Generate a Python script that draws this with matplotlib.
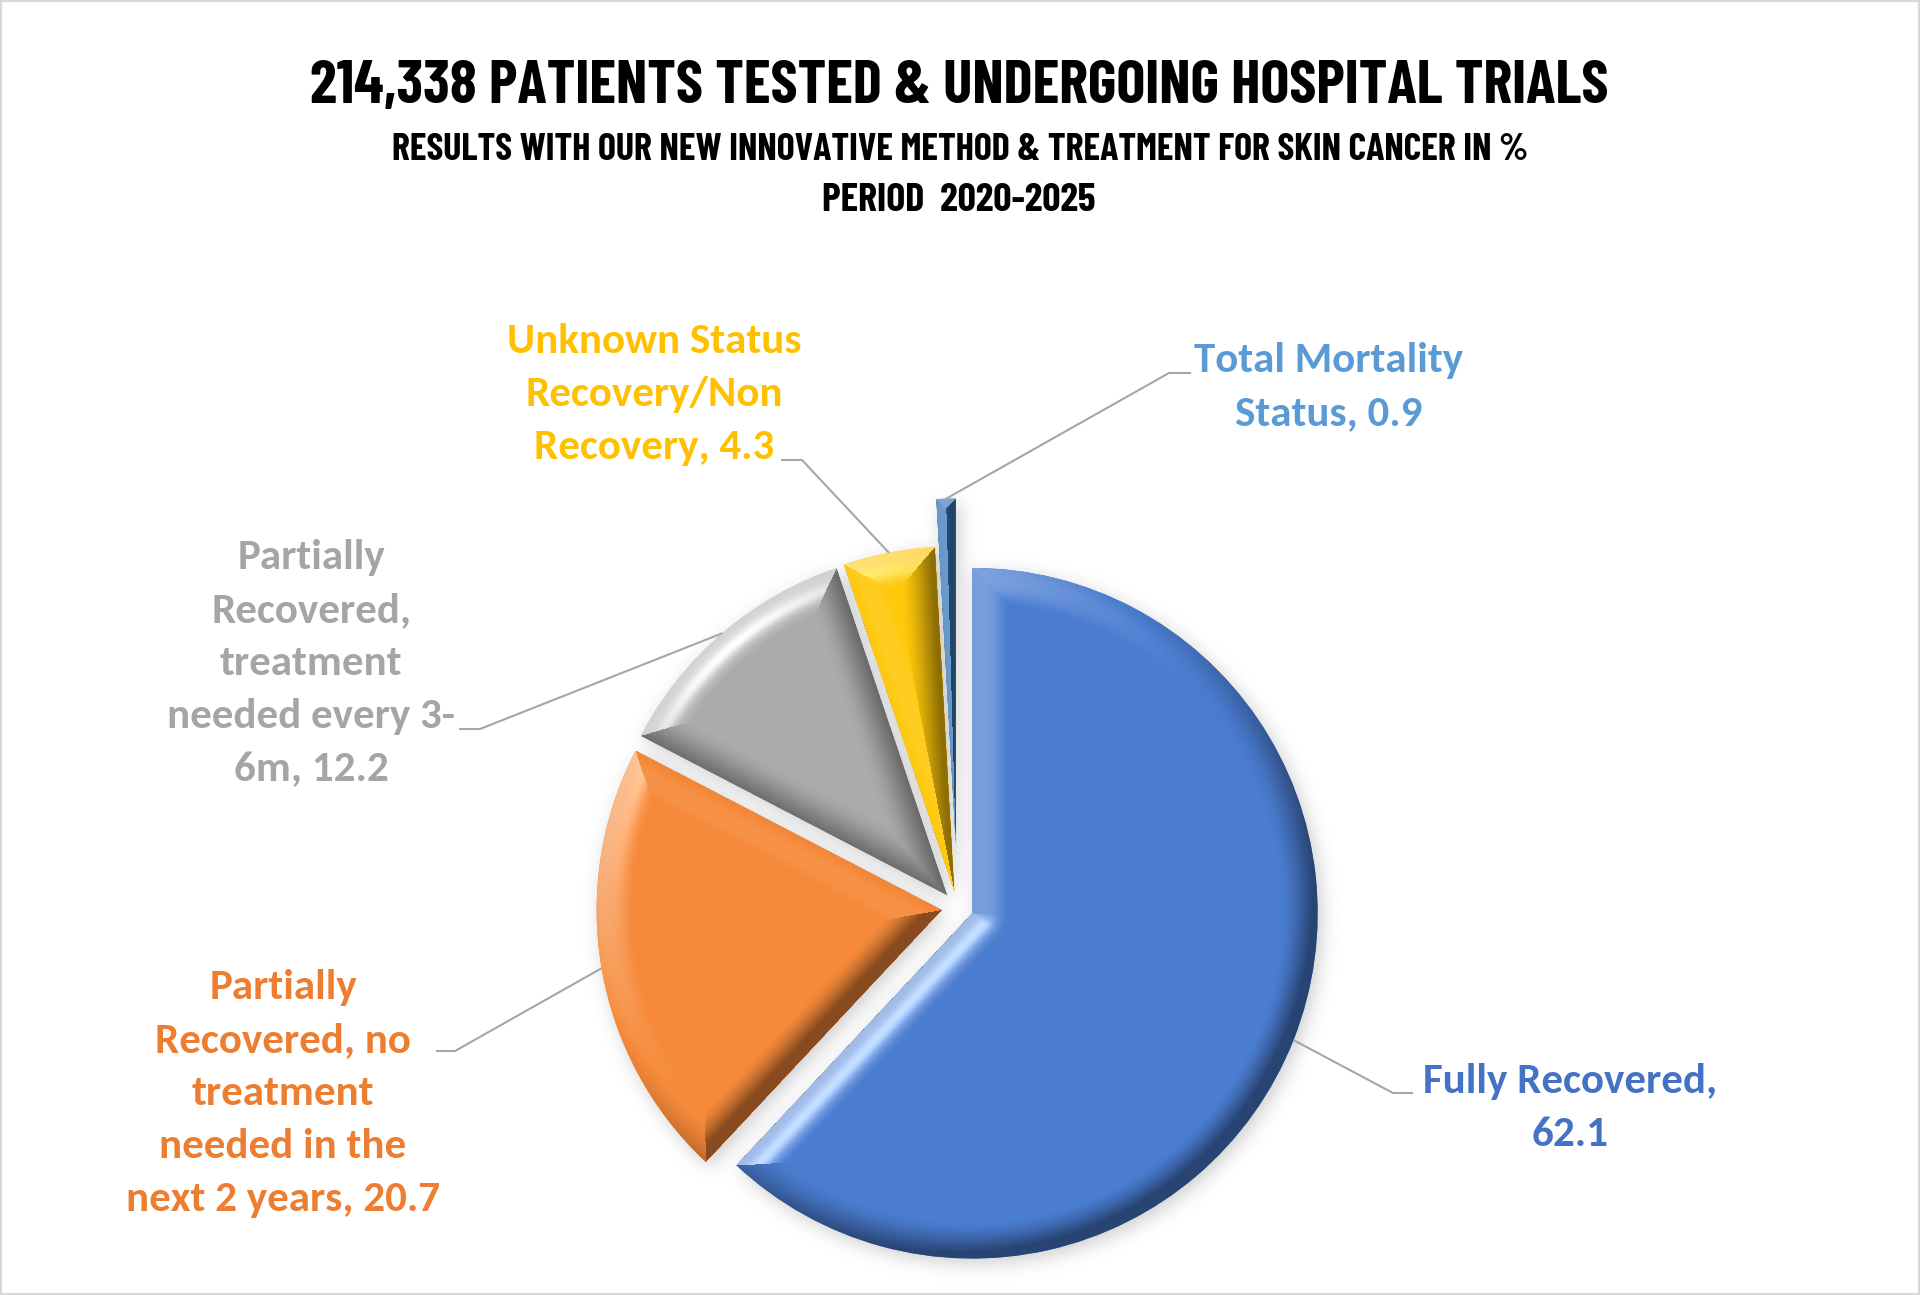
import numpy as np
import matplotlib
matplotlib.use("Agg")
import matplotlib.pyplot as plt
from matplotlib.patches import Rectangle
from matplotlib.colors import to_rgb

# ---------------- data ----------------
categories = [
    "Fully Recovered",
    "Partially\nRecovered, no\ntreatment\nneeded in the\nnext 2 years",
    "Partially\nRecovered,\ntreatment\nneeded every 3-\n6m",
    "Unknown Status\nRecovery/Non\nRecovery",
    "Total Mortality\nStatus",
]
values = [62.1, 20.7, 12.2, 4.3, 0.9]
label_sep = [",\n", ", ", ", ", ", ", ", "]
face_colors = ["#4A7CD0", "#F68A3A", "#ABABAB", "#FFC80A", "#3F7DBD"]
label_colors = ["#4472C4", "#ED7D31", "#A5A5A5", "#FFC000", "#5B9BD5"]
explode = [0.046, 0.046, 0.046, 0.046, 0.184]   # fraction of radius

title = "214,338 PATIENTS TESTED & UNDERGOING HOSPITAL TRIALS"
subtitle = "RESULTS WITH OUR NEW INNOVATIVE METHOD & TREATMENT FOR SKIN CANCER IN %"
period = "PERIOD  2020-2025"

# ---------------- figure ----------------
W, H = 1920, 1295
fig = plt.figure(figsize=(W / 100, H / 100), dpi=100)
ax = fig.add_axes([0, 0, 1, 1])
cx, cy, R = 957.6, 387.6, 345.3

wedges, _ = ax.pie(values, colors=face_colors, startangle=90, counterclock=False,
                   explode=[e * R for e in explode], center=(cx, cy), radius=R,
                   wedgeprops=dict(linewidth=0, zorder=3))
ax.set_xlim(0, W)
ax.set_ylim(0, H)
ax.set_aspect("equal")
ax.axis("off")


def wedge_mask(w, X, Y):
    c = np.array(w.center)
    rx, ry = X - c[0], Y - c[1]
    rho = np.hypot(rx, ry)
    phi = np.degrees(np.arctan2(ry, rx))
    span = (w.theta2 - w.theta1)
    a = np.mod(phi - w.theta1, 360.0)
    return (rho <= w.r) & (a <= span)


# soft outer shadow
sx0, sx1 = int(cx - R - 140), int(cx + R + 140)
sy0, sy1 = int(cy - R - 140), int(cy + R + 160)
xs = np.arange(sx0, sx1) + 0.5
ys = np.arange(sy0, sy1) + 0.5
X, Y = np.meshgrid(xs, ys)
m = np.zeros_like(X)
for w in wedges:
    m = np.maximum(m, wedge_mask(w, X - 4, Y + 5).astype(float))
ky = np.fft.fftfreq(m.shape[0])
kx = np.fft.fftfreq(m.shape[1])
KX, KY = np.meshgrid(kx, ky)
sig = 9.0
G = np.exp(-2 * (np.pi * sig) ** 2 * (KX ** 2 + KY ** 2))
mb = np.clip(np.real(np.fft.ifft2(np.fft.fft2(m) * G)), 0, 1)
shadow = np.zeros(m.shape + (4,))
shadow[..., :3] = 0.4
shadow[..., 3] = mb * 0.32
ax.imshow(shadow, extent=(sx0, sx1, sy0, sy1), origin="lower", zorder=2,
          interpolation="bilinear")

# bevel shading drawn over each wedge, clipped to it
L = np.array([-0.55, 0.6, 0.75])
L = L / np.linalg.norm(L)


def shade(w, base, bevel=36.0, slope=1.1):
    c = np.array(w.center)
    r = w.r
    v = w.get_path().vertices
    x0, y0 = np.floor(v.min(axis=0)) - 2
    x1, y1 = np.ceil(v.max(axis=0)) + 2
    xs = np.arange(x0, x1) + 0.5
    ys = np.arange(y0, y1) + 0.5
    X, Y = np.meshgrid(xs, ys)
    rx, ry = X - c[0], Y - c[1]
    rho = np.hypot(rx, ry) + 1e-9
    d_best = r - rho
    gx, gy = -rx / rho, -ry / rho
    for th in (w.theta1, w.theta2):
        t = np.radians(th)
        ex, ey = np.cos(t), np.sin(t)
        tp = np.maximum(rx * ex + ry * ey, 0)
        vx, vy = rx - tp * ex, ry - tp * ey
        d = np.hypot(vx, vy) + 1e-9
        sel = d < d_best
        d_best = np.where(sel, d, d_best)
        gx = np.where(sel, vx / d, gx)
        gy = np.where(sel, vy / d, gy)
    u = np.clip(d_best / bevel, 0, 1)
    s = slope * (1 - u) ** 1.4
    N = np.stack([-s * gx, -s * gy, np.ones_like(s)], axis=-1)
    N /= np.linalg.norm(N, axis=-1, keepdims=True)
    I = (N @ L) / L[2]
    b = np.array(to_rgb(base))
    up = np.clip((I - 1) * 1.1, 0, 0.48)[..., None]
    dn = np.clip((1 - I) * 0.6, 0, 0.45)[..., None]
    col = b + (1 - b) * up
    col = col * (1 - dn)
    Hh = np.array([-0.3, 0.35, 1.0])
    Hh /= np.linalg.norm(Hh)
    spec = np.clip(N @ Hh, 0, 1) ** 60
    spec = np.where(u < 1, spec, 0)[..., None] * 0.2
    col = np.clip(col + spec, 0, 1)
    img = np.concatenate([col, np.ones(col.shape[:2] + (1,))], axis=-1)
    im = ax.imshow(img, extent=(x0, x1, y0, y1), origin="lower", zorder=4,
                   interpolation="nearest")
    im.set_clip_path(w)


for w, col in zip(wedges, face_colors):
    shade(w, col)

# ---------------- labels ----------------
label_font = ["Carlito", "Lato", "DejaVu Sans"]
label_x = [1570, 283, 311, 654, 1329]
label_base0 = [1093, 999, 569, 353, 372]   # baseline of first line, from top
line_pitch = 53
leader_y = [1093, 1051, 729, 460, 373]
leader_elbow = [1393, 455, 480, 802, 1169]
leader_end = [1413, 436, 459, 781, 1191]

for i, w in enumerate(wedges):
    text = categories[i] + label_sep[i] + f"{values[i]:g}"
    for k, line in enumerate(text.split("\n")):
        ax.text(label_x[i], H - (label_base0[i] + k * line_pitch), line,
                ha="center", va="baseline", fontsize=31, fontweight="bold",
                family=label_font, color=label_colors[i], zorder=6)
    mid = np.radians((w.theta1 + w.theta2) / 2)
    px = w.center[0] + w.r * np.cos(mid)
    py = w.center[1] + w.r * np.sin(mid)
    ax.plot([px, leader_elbow[i], leader_end[i]],
            [py, H - leader_y[i], H - leader_y[i]],
            color="#A6A6A6", lw=1.5, zorder=5, solid_capstyle="butt")

# ---------------- titles ----------------
tfont = ["Barlow Condensed", "Sofia Sans Extra Condensed", "Roboto Condensed", "DejaVu Sans"]
t1 = ax.text(959.5, H - 103, title, ha="center", va="baseline", fontsize=36,
             fontweight="bold", family=tfont, color="black")
t2 = ax.text(960, H - 160, subtitle, ha="center", va="baseline", fontsize=22,
             fontweight="bold", family=tfont, color="black")
t3 = ax.text(959, H - 211, period, ha="center", va="baseline", fontsize=22,
             fontweight="bold", family=tfont, color="black")
renderer = fig.canvas.get_renderer()
for t, target in ((t1, 1302), (t2, 1141), (t3, 273)):
    wdt = t.get_window_extent(renderer=renderer).width
    t.set_fontsize(t.get_fontsize() * target / wdt)

ax.add_patch(Rectangle((1, 1), W - 2, H - 2, fill=False, ec="#D9D9D9", lw=1.5,
                       zorder=10))

fig.savefig("out.png", dpi=100)
